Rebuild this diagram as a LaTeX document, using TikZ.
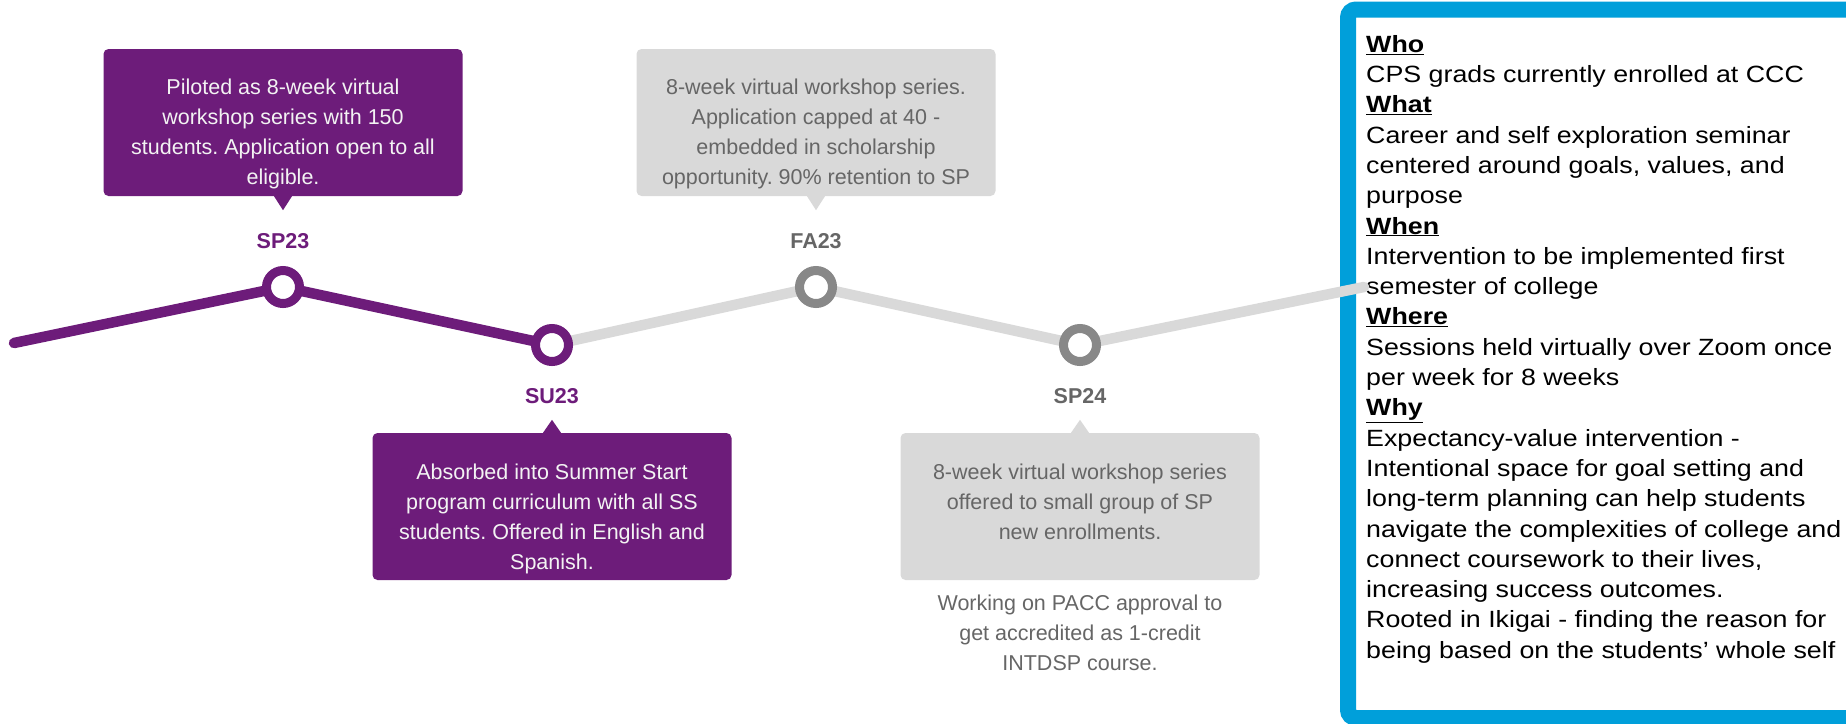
\documentclass[tikz,border=0pt]{standalone}
\usepackage{fontspec}
\setmainfont{Liberation Sans}
\newfontfamily\panelfont[FakeStretch=1.14]{Liberation Sans}
\usepackage{tikz}
\usetikzlibrary{positioning}
\frenchspacing

\definecolor{tlpurple}{HTML}{6D1C7A}
\definecolor{tllight}{HTML}{D9D9D9}
\definecolor{tldark}{HTML}{666666}
\definecolor{tlring}{HTML}{888888}
\definecolor{tlwhite}{HTML}{F3F3F3}
\definecolor{panelblue}{HTML}{009FDA}

\begin{document}
\begin{tikzpicture}[x=1pt,y=-1pt,on grid,
    ring/.style={circle,draw=#1,fill=white,line width=9pt,minimum size=33pt,inner sep=0pt},
    tline/.style={draw=#1,line width=10.5pt,line cap=round,line join=round},
    tbox/.style={fill=#1,rounded corners=5pt,minimum width=359pt,minimum height=147pt,inner sep=0pt},
    boxtext/.style={font=\fontsize{21.5}{30}\selectfont,align=center,inner sep=0pt,text=#1},
    datelbl/.style={font=\fontsize{21.5}{26}\selectfont\bfseries,inner sep=0pt,text=#1}]
    \useasboundingbox (0,0) rectangle (1846,723);
    \clip (0,0) rectangle (1846,723);

    % info panel
    \draw[panelblue,line width=16pt,fill=white,rounded corners=8pt] (1348,9.5) rectangle (1880,718);
    \node[font=\panelfont\fontsize{23.5}{30.3}\selectfont,align=left,inner sep=0pt,anchor=north west] (info) at (1366,35)
      {\underline{\textbf{Who}}\\
       CPS grads currently enrolled at CCC\\
       \underline{\textbf{What}}\\
       Career and self exploration seminar\\
       centered around goals, values, and\\
       purpose\\
       \underline{\textbf{When}}\\
       Intervention to be implemented first\\
       semester of college\\
       \underline{\textbf{Where}}\\
       Sessions held virtually over Zoom once\\
       per week for 8 weeks\\
       \underline{\textbf{Why}}\\
       Expectancy-value intervention -\\
       Intentional space for goal setting and\\
       long-term planning can help students\\
       navigate the complexities of college and\\
       connect coursework to their lives,\\
       increasing success outcomes.\\
       Rooted in Ikigai - finding the reason for\\
       being based on the students’ whole self};

    % timeline
    \coordinate (t_0) at (14,343);
    \coordinate (t_1) at (283,287);
    \coordinate (t_2) at (552,345);
    \coordinate (t_3) at (816,287);
    \coordinate (t_4) at (1080,345);
    \coordinate (t_5) at (1364,287);
    \draw[tline=tllight] (t_2) -- (t_3) -- (t_4) -- (t_5);
    \draw[tline=tlpurple] (t_0) -- (t_1) -- (t_2);

    \node[ring=tlpurple] (sp_23) at (t_1) {};
    \node[ring=tlpurple] (su_23) at (t_2) {};
    \node[ring=tlring] (fa_23) at (t_3) {};
    \node[ring=tlring] (sp_24) at (t_4) {};

    \node[datelbl=tlpurple] (sp_23l) [above=46pt of sp_23] {SP23};
    \node[datelbl=tlpurple] (su_23l) [below=51pt of su_23] {SU23};
    \node[datelbl=tldark] (fa_23l) [above=46pt of fa_23] {FA23};
    \node[datelbl=tldark] (sp_24l) [below=51pt of sp_24] {SP24};

    % boxes
    \node[tbox=tlpurple] (sp_23b) [above=164.5pt of sp_23] {};
    \node[tbox=tlpurple] (su_23b) [below=161.5pt of su_23] {};
    \node[tbox=tllight] (fa_23b) [above=164.5pt of fa_23] {};
    \node[tbox=tllight] (sp_24b) [below=161.5pt of sp_24] {};

    \fill[tlpurple] ([xshift=-9pt]sp_23b.south) -- ([xshift=9pt]sp_23b.south) -- ([yshift=-14pt]sp_23b.south) -- cycle;
    \fill[tllight] ([xshift=-9pt]fa_23b.south) -- ([xshift=9pt]fa_23b.south) -- ([yshift=-14pt]fa_23b.south) -- cycle;
    \fill[tlpurple] ([xshift=-9pt]su_23b.north) -- ([xshift=9pt]su_23b.north) -- ([yshift=13pt]su_23b.north) -- cycle;
    \fill[tllight] ([xshift=-9pt]sp_24b.north) -- ([xshift=9pt]sp_24b.north) -- ([yshift=13pt]sp_24b.north) -- cycle;

    \node[boxtext=tlwhite] (sp_23t) [below=30pt of sp_23b.north,anchor=north]
      {Piloted as 8-week virtual\\ workshop series with 150\\ students. Application open to all\\ eligible.};
    \node[boxtext=tldark] (fa_23t) [below=30pt of fa_23b.north,anchor=north]
      {8-week virtual workshop series.\\ Application capped at 40 -\\ embedded in scholarship\\ opportunity. 90\% retention to SP};
    \node[boxtext=tlwhite] (su_23t) [below=31pt of su_23b.north,anchor=north]
      {Absorbed into Summer Start\\ program curriculum with all SS\\ students. Offered in English and\\ Spanish.};
    \node[boxtext=tldark] (sp_24t) [below=31pt of sp_24b.north,anchor=north]
      {8-week virtual workshop series\\ offered to small group of SP\\ new enrollments.};
    \node[boxtext=tldark] (sp_24n) [below=15pt of sp_24b.south,anchor=north]
      {Working on PACC approval to\\ get accredited as 1-credit\\ INTDSP course.};
\end{tikzpicture}
\end{document}
